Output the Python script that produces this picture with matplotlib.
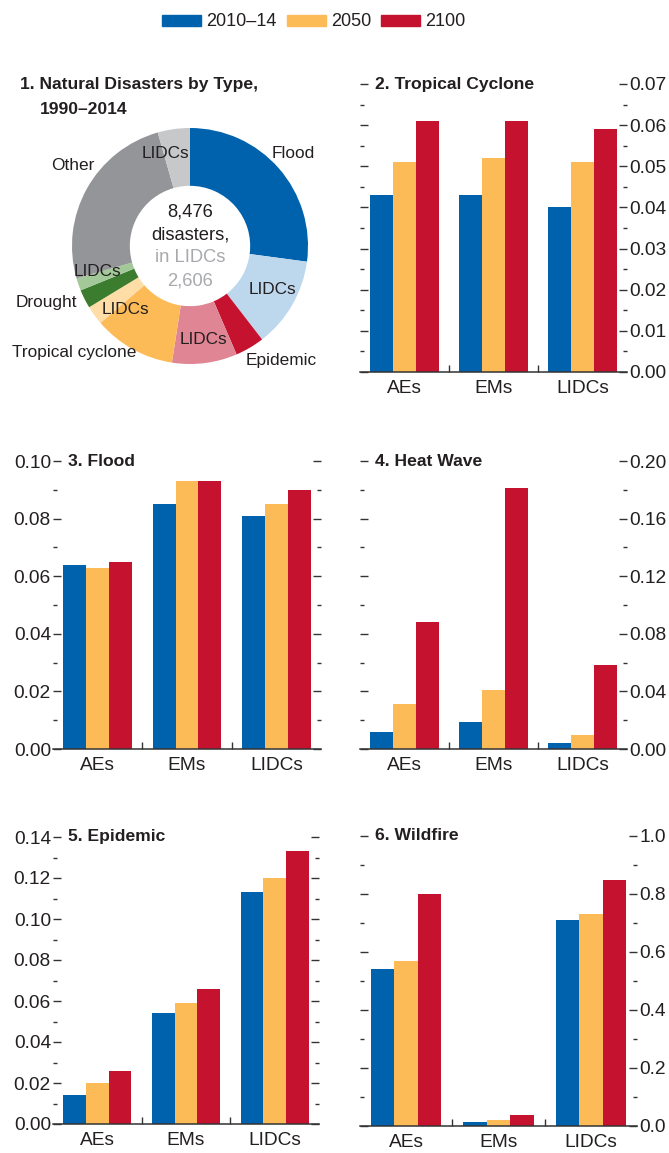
import numpy as np
import matplotlib
matplotlib.use("Agg")
import matplotlib.pyplot as plt
from matplotlib import font_manager
from matplotlib.patches import Patch
from matplotlib.ticker import MultipleLocator, FormatStrFormatter, FixedLocator

names = {f.name for f in font_manager.fontManager.ttflist}
if "Liberation Sans Narrow" in names:
    fam, k = "Liberation Sans Narrow", 1.1
else:
    fam, k = "Liberation Sans", 1.0
plt.rcParams["font.family"] = [fam, "DejaVu Sans"]
TXT = "#231F20"

# data
groups = ["AEs", "EMs", "LIDCs"]
periods = ["2010–14", "2050", "2100"]
bar_colors = ["#0062AD", "#FDBB57", "#C4122F"]

cyclone = [[0.043, 0.043, 0.040], [0.051, 0.052, 0.051], [0.061, 0.061, 0.059]]
flood = [[0.064, 0.085, 0.081], [0.063, 0.093, 0.085], [0.065, 0.093, 0.090]]
heat = [[0.012, 0.019, 0.004], [0.031, 0.041, 0.010], [0.088, 0.181, 0.058]]
epidemic = [[0.014, 0.054, 0.113], [0.020, 0.059, 0.120], [0.026, 0.066, 0.133]]
wildfire = [[0.54, 0.013, 0.71], [0.57, 0.021, 0.73], [0.80, 0.038, 0.85]]

pie_labels = ["Flood", "LIDCs", "Epidemic", "LIDCs", "Tropical cyclone", "LIDCs",
              "Drought", "LIDCs", "Other", "LIDCs"]
pie_shares = [27.1, 12.4, 4.0, 8.9, 11.25, 2.6, 2.55, 1.7, 25.0, 4.4]
pie_colors = ["#0062AD", "#BDD7EC", "#C4122F", "#E08593", "#FDBB57", "#FEDDA6",
              "#3B7C2F", "#A4C999", "#939598", "#C7C8CA"]
total_n, lidc_n = "8,476", "2,606"

W, H = 669, 1153
fig = plt.figure(figsize=(W / 100, H / 100), dpi=100)

FS_TICK = 13.8 * k
FS_TITLE = 12.6 * k
FS_PIE = 12.4 * k


def px_axes(x0, y0, x1, y1):
    return fig.add_axes([x0 / W, 1 - y1 / H, (x1 - x0) / W, (y1 - y0) / H])


def bar_panel(box, vals, title, ymax, major, minor, fmt, side):
    ax = px_axes(*box)
    x = np.arange(len(groups))
    w = 0.255
    for i, v in enumerate(vals):
        ax.bar(x + (i - 1) * w, v, w, color=bar_colors[i], linewidth=0)
    ax.set_xlim(-0.5, 2.5)
    ax.set_ylim(0, ymax)
    for s in ["top", "left", "right"]:
        ax.spines[s].set_visible(False)
    ax.spines["bottom"].set_linewidth(1.1)
    ax.spines["bottom"].set_color("#333333")
    ax.xaxis.set_major_locator(FixedLocator([0.5, 1.5]))
    ax.xaxis.set_minor_locator(FixedLocator(x))
    ax.set_xticklabels([])
    ax.set_xticklabels(groups, minor=True)
    ax.tick_params(axis="x", which="major", direction="in", length=5, width=1, color="#333333")
    ax.tick_params(axis="x", which="minor", length=0, pad=6, labelsize=FS_TICK, labelcolor=TXT)
    ax.yaxis.set_major_locator(MultipleLocator(major))
    ax.yaxis.set_minor_locator(MultipleLocator(minor))
    ax.yaxis.set_major_formatter(FormatStrFormatter(fmt))
    lab_right = side == "right"
    ax.tick_params(axis="y", which="both", direction="in", left=True, right=True,
                   labelleft=not lab_right, labelright=lab_right, color="#333333",
                   labelsize=FS_TICK, labelcolor=TXT, pad=1.5)
    ax.tick_params(axis="y", which="major", length=6, width=1)
    ax.tick_params(axis="y", which="minor", length=3, width=1)
    ax.text(15 / (box[2] - box[0]), 1.0, title, transform=ax.transAxes, ha="left",
            va="center", fontsize=FS_TITLE, fontweight="bold", color=TXT)
    return ax


bar_panel((360, 84, 627, 372), cyclone, "2. Tropical Cyclone", 0.07, 0.01, 0.005, "%.2f", "right")
bar_panel((53, 461, 321, 749), flood, "3. Flood", 0.10, 0.02, 0.01, "%.2f", "left")
bar_panel((360, 461, 627, 749), heat, "4. Heat Wave", 0.20, 0.04, 0.02, "%.2f", "right")
bar_panel((53, 837, 319, 1124), epidemic, "5. Epidemic", 0.14, 0.02, 0.01, "%.2f", "left")
bar_panel((360, 836, 637, 1126), wildfire, "6. Wildfire", 1.0, 0.2, 0.1, "%.1f", "right")

# donut
cx, cy, r = 190, 246, 118
pax = px_axes(cx - r, cy - r, cx + r, cy + r)
pax.pie(pie_shares, colors=pie_colors, startangle=90, counterclock=False, radius=1,
        wedgeprops=dict(width=0.49, linewidth=0))
pax.set_xlim(-1, 1)
pax.set_ylim(-1, 1)
pax.set_aspect("equal")
pax.axis("off")


def ptxt(px, py, s, size=FS_PIE, color=TXT):
    pax.text((px - cx) / r, -(py - cy) / r, s, ha="center", va="center",
             fontsize=size, color=color, clip_on=False)


label_pos = [(293, 153), (272, 290), (281, 360), (203, 339), (74, 353), (125, 310),
             (46, 302), (97, 271), (73, 166), (165, 153)]
for (px, py), s in zip(label_pos, pie_labels):
    ptxt(px, py, s)
ptxt(190, 212, total_n, 13.2 * k)
ptxt(190, 235, "disasters,", 13.2 * k)
ptxt(190, 258, "in LIDCs", 13.2 * k, "#A7A9AC")
ptxt(190, 281, lidc_n, 13.2 * k, "#A7A9AC")

fig.text(20 / W, 1 - 85 / H, "1. Natural Disasters by Type,", ha="left", va="center",
         fontsize=FS_TITLE, fontweight="bold", color=TXT)
fig.text(40 / W, 1 - 110 / H, "1990–2014", ha="left", va="center",
         fontsize=FS_TITLE, fontweight="bold", color=TXT)

handles = [Patch(color=c, label=p) for c, p in zip(bar_colors, periods)]
fig.legend(handles=handles, loc="center", bbox_to_anchor=(314 / W, 1 - 22 / H), ncol=3,
           frameon=False, fontsize=13 * k, handlelength=2.15, handleheight=0.55,
           handletextpad=0.3, columnspacing=0.55, borderpad=0, labelcolor=TXT)

fig.savefig("out.png", dpi=100)
